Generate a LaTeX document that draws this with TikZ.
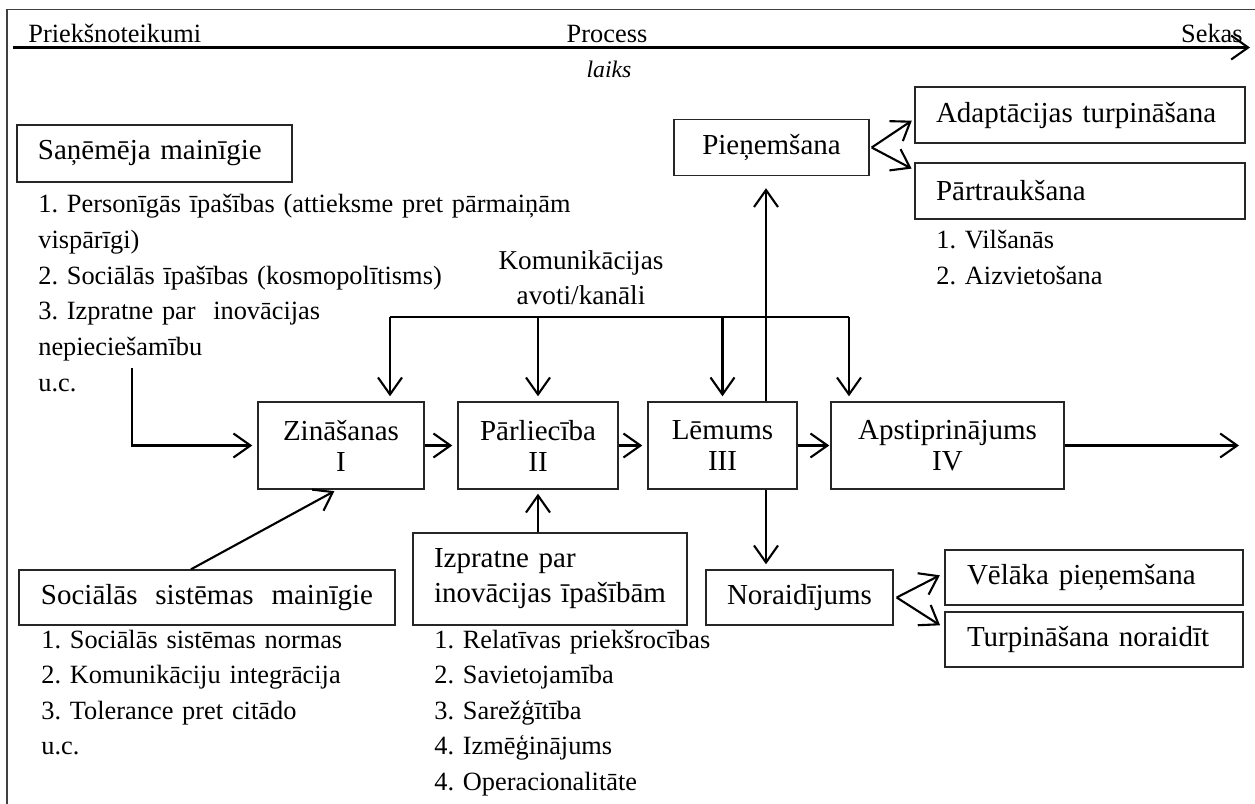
\documentclass[tikz,border=0pt]{standalone}
\usepackage{fontspec}
\setmainfont{Liberation Serif}
\usetikzlibrary{arrows.meta,positioning,calc}
\frenchspacing

\begin{document}
\begin{tikzpicture}[
  box/.style={
    draw=black!85,
    line width=0.8pt,
    inner sep=0pt,
    font=\fontsize{16.5}{20}\selectfont
  },
  lbox/.style={
    box,
    align=left,
    inner xsep=0.42cm,
    minimum height=1.12cm
  },
  stage/.style={
    box,
    align=center,
    minimum height=1.74cm,
    font=\fontsize{16.5}{17.6}\selectfont
  },
  lst/.style={
    anchor=base west,
    align=left,
    inner sep=0pt,
    text width=11cm,
    font=\fontsize{15}{20.26}\selectfont
  },
  axislbl/.style={anchor=base, inner sep=0pt, font=\fontsize{15}{18}\selectfont},
  arr/.style={-{Straight Barb[length=3.4mm,width=4.8mm,line width=1.2pt]}, line width=1.2pt},
  ln/.style={line width=1.2pt}
]
\useasboundingbox (0,0) rectangle (25.1,-16.08);

% frame and time axis
\draw[line width=0.8pt, black!75] (0.14,-16.08) -- (0.14,-0.19) -- (25.1,-0.19);
\coordinate (t0) at (0.26,-0.95);
\coordinate (t1) at (25.0,-0.95);
\draw[arr] (t0) -- (t1);
\node[axislbl, anchor=base west] (pre) at (0.56,-0.86) {Priekšnoteikumi};
\node[axislbl] (proc) at (12.14,-0.86) {Process};
\node[axislbl, anchor=base east] (sek) at (24.86,-0.86) {Sekas};
\node[anchor=base, inner sep=0pt, font=\fontsize{13.5}{16}\selectfont\itshape] (laiks) at (12.18,-1.56) {laiks};

% receiver variables
\node[lbox, text width=4.66cm, minimum width=5.5cm, minimum height=1.14cm] (sanem) at (3.09,-3.07) {Saņēmēja mainīgie};
\node[lst] (sanemlst) at (0.76,-4.26) {1. Personīgās īpašības (attieksme pret pārmaiņām\\vispārīgi)\\2. Sociālās īpašības (kosmopolītisms)\\3. Izpratne par\ \ inovācijas\\nepieciešamību\\u.c.};
\coordinate (uc) at (2.64,-7.36);

% main stages
\node[stage, minimum width=3.32cm] (zin) at (6.82,-8.91) {Zināšanas\\I};
\node[stage, minimum width=3.2cm] (parl) at (10.76,-8.91) {Pārliecība\\II};
\node[stage, minimum width=2.98cm] (lem) at (14.45,-8.91) {Lēmums\\III};
\node[stage, minimum width=4.66cm] (apst) at (18.95,-8.91) {Apstiprinājums\\IV};
\coordinate (out) at (24.78,-8.91);

\draw[arr, shorten >=0.1cm] (zin.east) -- (parl.west);
\draw[arr, shorten >=0.1cm] (parl.east) -- (lem.west);
\draw[arr, shorten >=0.02cm] (lem.east) -- (apst.west);
\draw[arr] (apst.east) -- (out);
\draw[arr, shorten >=0.1cm] (uc) |- (zin.west);

% communication channels
\node[align=center, inner sep=0pt, font=\fontsize{15.5}{20}\selectfont] (kom) at (11.62,-5.55) {Komunikācijas\\avoti/kanāli};
\coordinate (busL) at (7.8,-6.34);
\coordinate (busR) at (16.98,-6.34);
\draw[ln] (busL) -- (busR);
\draw[arr, shorten >=0.1cm] (busL) -- (busL |- zin.north);
\draw[arr, shorten >=0.1cm] (busL -| parl.north) -- (parl.north);
\draw[arr, shorten >=0.1cm] (busL -| lem.north) -- (lem.north);
\draw[arr, shorten >=0.1cm] (busR) -- (busR |- apst.north);

% adoption branch
\node[box, minimum width=3.9cm, minimum height=1.12cm] (pien) at (15.43,-2.95) {Pieņemšana};
\node[lbox, text width=5.76cm, minimum width=6.6cm] (adapt) at (21.6,-2.3) {Adaptācijas turpināšana};
\node[lbox, text width=5.76cm, minimum width=6.6cm] (partr) at (21.6,-3.82) {Pārtraukšana};
\node[lst] (partrlst) at (18.72,-4.98) {1. Vilšanās\\2. Aizvietošana};
\draw[arr, shorten >=0.24cm] ([xshift=0.87cm]lem.north) -- ([xshift=0.87cm]lem.north |- pien.south);
\draw[arr, shorten >=0.06cm] ([xshift=0.04cm]pien.east) -- ([yshift=-0.08cm]adapt.west);
\draw[arr, shorten >=0.06cm] ([xshift=0.04cm]pien.east) -- ([yshift=0.42cm]partr.west);

% rejection branch
\node[box, minimum width=3.74cm, minimum height=1.1cm] (nor) at (15.99,-11.95) {Noraidījums};
\node[lbox, text width=5.08cm, minimum width=5.96cm, minimum height=1.1cm] (vel) at (21.88,-11.55) {Vēlāka pieņemšana};
\node[lbox, text width=5.08cm, minimum width=5.96cm, minimum height=1.1cm] (turp) at (21.88,-12.79) {Turpināšana noraidīt};
\draw[arr, shorten >=0.1cm] ([xshift=0.87cm]lem.south) -- ([xshift=0.87cm]lem.south |- nor.north);
\draw[arr, shorten >=0.1cm] ([xshift=0.06cm]nor.east) -- ([yshift=0.09cm]vel.west);
\draw[arr, shorten >=0.1cm] ([xshift=0.06cm]nor.east) -- ([yshift=0.23cm]turp.west);

% social system variables
\node[lbox, text width=6.64cm, minimum width=7.52cm, minimum height=1.1cm] (soc) at (4.14,-11.95) {Sociālās \hfill sistēmas \hfill mainīgie};
\node[lst] (soclst) at (0.82,-12.96) {1. Sociālās sistēmas normas\\2. Komunikāciju integrācija\\3. Tolerance pret citādo\\u.c.};
\draw[arr, shorten >=0.06cm] ([xshift=-0.32cm]soc.north) -- ([xshift=-0.08cm]zin.south);

% innovation attributes
\node[lbox, text width=4.64cm, minimum width=5.48cm, minimum height=1.84cm] (izpr) at (11.0,-11.58) {Izpratne par\\inovācijas īpašībām};
\node[lst] (izprlst) at (8.68,-12.96) {1. Relatīvas priekšrocības\\2. Savietojamība\\3. Sarežģītība\\4. Izmēģinājums\\4. Operacionalitāte};
\draw[arr, shorten >=0.08cm] (izpr.north -| parl.south) -- (parl.south);

\end{tikzpicture}
\end{document}
